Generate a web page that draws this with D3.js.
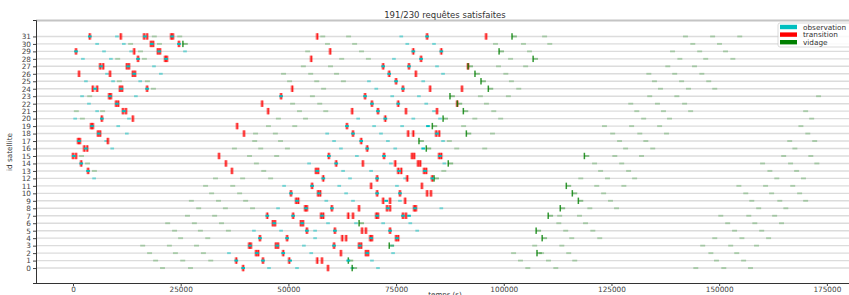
<!DOCTYPE html>
<html>
<head>
<meta charset="utf-8">
<script src="https://cdn.jsdelivr.net/npm/d3@7"></script>
<style>
body { margin: 0; background: #fff; }
svg { display: block; font-family: "DejaVu Sans", sans-serif; }
</style>
</head>
<body>
<div id="canvas"></div>
<script>
// ----------------------------------------------------------
// DATA -----------------------------------------------------
// ----------------------------------------------------------
var title_text = "191/230 requêtes satisfaites";
var series_names = ["observation", "transition", "vidage"];
var x_ticks = [0, 25000, 50000, 75000, 100000, 125000, 150000, 175000];
var y_ticks = d3.range(0, 32);

// transitions (red bars), [satellite, [start times in s]]
var transitions = [
[31, [3900, 11100, 16500, 17200, 22800, 23200, 56700, 82200, 95900]],
[30, [18100, 18600, 24600]],
[29, [700, 14200, 19700, 20200, 59700, 79000, 85500]],
[28, [15100, 21400, 21800, 55300, 80800]],
[27, [6300, 7000, 12500, 13000, 72000, 78000, 91700]],
[26, [1400, 8600, 13900, 14400, 73400, 79600]],
[25, [75000]],
[24, [4600, 5600, 10900, 11400, 17200, 50900, 76600, 82900, 90300]],
[23, [8400, 8800, 48300, 67800]],
[22, [10000, 10500, 43900, 69400, 75500, 89200]],
[21, [11600, 12300, 45300, 64800, 70800, 77300, 84500]],
[20, [6700, 13900, 72500]],
[19, [4200, 4600, 38100, 63600]],
[18, [5800, 6300, 39700, 65000, 77800, 79000, 84300, 85000]],
[17, [1200, 1600, 8100, 66900]],
[16, [2600, 3300, 68300]],
[15, [0, 700, 33900, 59400, 72200, 78700, 79200, 85000, 85500]],
[14, [1900, 35500, 61100, 67300, 74800, 80100, 80600]],
[13, [3500, 36900, 56400, 56900, 75500, 76200, 81500, 82000]],
[12, [58100, 70600, 77600, 83400]],
[11, [55500, 69200, 81000]],
[10, [50600, 56900, 57400, 70600, 75900, 82200, 83100]],
[9, [51800, 52300, 72000, 73600, 77100]],
[8, [53900, 54300, 60100, 66400, 72900, 73600, 79200, 79600]],
[7, [45100, 51100, 57600, 58100, 63900, 65000, 70400, 70800, 76600, 77300]],
[6, [46400, 46900, 52900, 53400]],
[5, [54300, 60800, 67100, 68000, 73600]],
[4, [43400, 49700, 62500, 63400, 69000, 69400, 75000, 75500]],
[3, [40900, 41300, 47100, 47600, 60600, 66400, 66900]],
[2, [42500, 43000, 48800, 62200, 68000, 68500]],
[1, [37900, 44100, 50200, 56700, 57800]],
[0, [39500, 59200]]
];

// scheduled observations (cyan marks)
var observations = [
[31, [3900, 16700, 23000, 82200]],
[30, [18300, 24600]],
[29, [700, 20000, 79000, 85500]],
[28, [15100, 21600, 80800]],
[27, [6500, 12800, 72000, 78000]],
[26, [14200, 73400]],
[25, [75000]],
[24, [5100, 11200, 17200, 76600]],
[23, [8600, 48300, 67800]],
[22, [10200, 69400, 75500]],
[21, [11800, 70800]],
[20, [6700, 72500]],
[19, [4400, 63600, 82400]],
[18, [6000, 65000, 84500]],
[17, [1400, 66900]],
[16, [3000, 68300, 81300]],
[15, [200, 59400, 72200, 85200]],
[14, [1900, 61100]],
[13, [3500, 56700, 75700, 81700]],
[12, [58100, 70600, 83400]],
[11, [55500]],
[10, [50600, 57100, 70600, 75900]],
[9, [52000, 72700]],
[8, [54100, 60100, 73100, 79400]],
[7, [45100, 51100, 57800, 70600, 76600, 78000]],
[6, [46700, 53200]],
[5, [54300, 60800, 73600]],
[4, [43400, 49700, 69200, 75200]],
[3, [41100, 47400, 60600, 66600]],
[2, [42700, 48800, 68300]],
[1, [37900, 44100, 50400, 63900]],
[0, [39500]]
];

// observation windows not used (faint cyan)
var observation_windows = [
[31, [10200, 76200]],
[30, [5600, 11800, 77600, 83800]],
[29, [7200, 13500, 26000]],
[28, [2300, 8800, 74500]],
[27, [18800, 84500]],
[26, [7900, 20400, 85900]],
[25, [3000, 9300, 15600, 68700, 81300]],
[24, [70400]],
[23, [2100, 14600, 74100, 80300]],
[22, [3700, 82000]],
[21, [5600, 83800]],
[20, [500, 13000, 66200, 79000, 85200]],
[19, [10500, 69900, 76400]],
[18, [12500, 59000, 71500]],
[17, [7700, 60600, 73100, 85900]],
[16, [9100, 62200, 74800]],
[15, [65900]],
[14, [54800, 73800, 86200]],
[13, [62700, 69200]],
[12, [4900, 64300, 77100]],
[11, [49000, 61800, 75200]],
[10, [63400]],
[9, [58800, 65000, 75900]],
[8, [47600, 85500]],
[6, [59200, 65700, 72000, 78300]],
[5, [42000, 48300, 56200, 79900]],
[4, [56200]],
[3, [53600, 74100]],
[2, [36200, 55300, 74300]],
[1, [69400]],
[0, [45500, 52000, 64800, 70800]]
];

// downloads done (green bars)
var vidages = [
[31, [101900]], [30, [25500]], [29, [98900]], [28, [106800]],
[27, [91700]], [26, [93300]], [25, [94700]], [24, [96400]],
[23, [87500]], [22, [89200]], [21, [90600]], [20, [85900]],
[19, [83400]], [18, [91300]], [17, [80300]], [16, [82000]],
[15, [118700]], [14, [87100]], [12, [83800]], [11, [114500]],
[10, [115900]], [9, [117300]], [8, [113100]], [7, [110300]],
[6, [66400]], [5, [107500]], [4, [108900]], [3, [73400]],
[2, [107700]], [1, [63900]], [0, [64800]]
];

// station visibility windows (faint green)
var station_windows = [
[31, [18300, 24200, 57400, 63400, 108900, 141600, 147900, 154200]],
[30, [12800, 19500, 58500, 64800, 97500, 104000, 110100, 143300, 149500]],
[29, [15100, 53900, 66400, 105400, 138600, 144900, 150900]],
[28, [9800, 16000, 61800, 68000, 101000, 140300, 146300, 152600]],
[27, [52900, 59200, 98200, 104500, 137500, 143700]],
[26, [48300, 54600, 60600, 99900, 133100, 139100, 145400]],
[25, [10200, 16700, 49700, 56000, 62200, 101200, 134400, 140700, 147000]],
[24, [18100, 57600, 102900, 135800, 142300, 148400]],
[23, [3300, 55000, 94000, 100500, 133300, 139600, 172500]],
[22, [50400, 56700, 95400, 128900, 135100, 141400]],
[21, [200, 6300, 52000, 58100, 97100, 130300, 136500, 142800, 169500]],
[20, [1600, 47100, 53400, 92700, 98700, 131900, 137900, 170900]],
[19, [44800, 50900, 90100, 122800, 129100, 135600, 168400]],
[18, [41800, 46400, 96800, 124700, 131000, 137200, 170000]],
[17, [41600, 47600, 86800, 126300, 132400, 165800, 171600]],
[16, [36900, 43000, 49200, 88500, 95000, 127700, 134000, 167000]],
[15, [1400, 40400, 46700, 125200, 131400, 164400, 170700]],
[14, [2800, 42000, 120500, 126800, 159500, 166000, 172100]],
[13, [4400, 43700, 85500, 121900, 128400, 161200, 167400]],
[12, [32500, 38800, 45300, 117300, 123500, 129800, 162800, 169000]],
[11, [30200, 36500, 121000, 127300, 154000, 160200, 166500]],
[10, [31600, 38100, 122600, 155600, 161600, 168100]],
[9, [26900, 33200, 39500, 124200, 157000, 163500, 169500]],
[8, [28600, 34800, 41100, 119400, 125600, 158600, 164900]],
[7, [26000, 32300, 112400, 117000, 149800, 156300, 162300]],
[6, [21400, 27600, 33900, 112200, 118400, 151400, 157700, 163900]],
[5, [23000, 29000, 35500, 113800, 120100, 153000, 159300]],
[4, [24400, 30700, 115200, 121700, 148400, 154700, 160900]],
[3, [15600, 21800, 28100, 106600, 112900, 145600, 152100, 158100]],
[2, [17200, 23200, 29700, 101700, 108200, 114500, 147500, 153500]],
[1, [18600, 24900, 31400, 103300, 109800, 115900, 148800, 155100]],
[0, [20200, 26700, 105000, 111500, 144000, 150500, 156700]]
];

var data_set =
{
container_width: 849,
container_height: 295,
color_obs: "#00bfbf",
color_trans: "#ff0000",
color_vid: "#008000",
color_row: "#dcdcdc",
color_text: "#333"
};

// flatten [sat, [t...]] into {sat, t}
function flat(list) {
var out = [];
list.forEach(function (r) {
r[1].forEach(function (t) { out.push({ sat: r[0], t: t }); });
});
return out;
}

// ----------------------------------------------------------
// STRUCTURE ------------------------------------------------
// ----------------------------------------------------------
var container = d3.select("#canvas").append("svg")
.attr("width", data_set.container_width)
.attr("height", data_set.container_height);

var x = d3.scaleLinear().domain([-8590, 181300]).range([36, 854]);
var y = d3.scaleLinear().domain([-2, 33.2]).range([283, 20]);
var row_h = y(0) - y(1);

var layout_group = container.append("g").attr("class", "layout_group");
var gfx_group = container.append("g").attr("class", "gfx_group");
var text_group = container.append("g").attr("class", "text_group");

// row lines
layout_group.selectAll(".row_line")
.data(y_ticks)
.enter()
.append("line")
.attr("x1", 36)
.attr("x2", 849)
.attr("y1", (d) => y(d))
.attr("y2", (d) => y(d))
.style("stroke", data_set.color_row)
.style("stroke-width", 1.4);

// top frame line
layout_group.append("line")
.attr("x1", 36).attr("x2", 849)
.attr("y1", 20.5).attr("y2", 20.5)
.style("stroke", "#c4c4c4")
.style("stroke-width", 2);

// ----------------------------------------------------------
// GFX ------------------------------------------------------
// ----------------------------------------------------------
var w_win = 1150;   // faint window width in s
var w_obs = 850;

// station windows
gfx_group.selectAll(".gwin")
.data(flat(station_windows))
.enter()
.append("rect")
.attr("x", (d) => x(d.t))
.attr("y", (d) => y(d.sat) - 1)
.attr("width", x(w_win) - x(0))
.attr("height", 2)
.style("fill", data_set.color_vid)
.style("opacity", 0.26);

// observation windows
gfx_group.selectAll(".owin")
.data(flat(observation_windows))
.enter()
.append("rect")
.attr("x", (d) => x(d.t) - (x(w_obs) - x(0)) / 2)
.attr("y", (d) => y(d.sat) - 1)
.attr("width", x(w_obs) - x(0))
.attr("height", 2)
.style("fill", data_set.color_obs)
.style("opacity", 0.5);

// transitions
var trans = gfx_group.selectAll(".trans")
.data(flat(transitions))
.enter()
.append("g");

trans.append("rect")
.attr("x", (d) => x(d.t) - 1.8)
.attr("y", (d) => y(d.sat) - row_h * 0.43)
.attr("width", 3.6)
.attr("height", row_h * 0.86)
.style("fill", data_set.color_trans)
.style("opacity", 0.35);

trans.append("rect")
.attr("x", (d) => x(d.t) - 0.7)
.attr("y", (d) => y(d.sat) - row_h * 0.43)
.attr("width", 1.4)
.attr("height", row_h * 0.86)
.style("fill", data_set.color_trans)
.style("opacity", 0.85);

// vidages
var vid = gfx_group.selectAll(".vid")
.data(flat(vidages))
.enter()
.append("g");

vid.append("rect")
.attr("x", (d) => x(d.t))
.attr("y", (d) => y(d.sat) - 1)
.attr("width", x(w_win) - x(0))
.attr("height", 2)
.style("fill", data_set.color_vid)
.style("opacity", 0.4);

vid.append("rect")
.attr("x", (d) => x(d.t) - 0.7)
.attr("y", (d) => y(d.sat) - row_h * 0.43)
.attr("width", 1.5)
.attr("height", row_h * 0.86)
.style("fill", data_set.color_vid)
.style("opacity", 0.8);

// observations done
gfx_group.selectAll(".obs")
.data(flat(observations))
.enter()
.append("rect")
.attr("x", (d) => x(d.t) - (x(w_obs) - x(0)) / 2)
.attr("y", (d) => y(d.sat) - 1)
.attr("width", x(w_obs) - x(0))
.attr("height", 2)
.style("fill", data_set.color_obs);

// ----------------------------------------------------------
// AXES -----------------------------------------------------
// ----------------------------------------------------------
var x_axis = layout_group.append("g")
.attr("transform", "translate(0,283)")
.call(d3.axisBottom(x).tickValues(x_ticks).tickSize(3).tickPadding(1).tickFormat(d3.format("d")));

var y_axis = layout_group.append("g")
.attr("transform", "translate(36,0)")
.call(d3.axisLeft(y).tickValues(y_ticks).tickSize(3).tickPadding(2));

[x_axis, y_axis].forEach(function (a) {
a.select(".domain").style("stroke", "#333").style("stroke-width", 1);
a.selectAll(".tick line").style("stroke", "#444");
a.selectAll(".tick text")
.style("font-size", "7.3px")
.style("font-family", "DejaVu Sans")
.style("fill", "#444");
});
x_axis.select(".domain").attr("d", "M36,0.5H849");

// ----------------------------------------------------------
// TEXT -----------------------------------------------------
// ----------------------------------------------------------
text_group.append("text")
.attr("x", 445)
.attr("y", 18)
.attr("text-anchor", "middle")
.style("font-size", "8.5px")
.style("fill", data_set.color_text)
.text(title_text);

text_group.append("text")
.attr("transform", "translate(12,152) rotate(-90)")
.attr("text-anchor", "middle")
.style("font-size", "7.3px")
.style("fill", data_set.color_text)
.text("id satellite");

// x label sits at the bottom edge, as in the source figure
text_group.append("text")
.attr("x", 445)
.attr("y", 297)
.attr("text-anchor", "middle")
.style("font-size", "7px")
.style("fill", data_set.color_text)
.text("temps (s)");

// legend
var legend = text_group.append("g").attr("transform", "translate(778,23)");
legend.append("rect")
.attr("x", 0).attr("y", 0)
.attr("width", 80).attr("height", 24)
.attr("rx", 2)
.style("fill", "#fff")
.style("opacity", 0.85)
.style("stroke", "#ccc")
.style("stroke-width", 0.8);

var legend_colors = [data_set.color_obs, data_set.color_trans, data_set.color_vid];
var leg_item = legend.selectAll(".leg")
.data(series_names)
.enter()
.append("g")
.attr("transform", (d, i) => `translate(0, ${4 + i * 7.6})`);

leg_item.append("rect")
.attr("x", 2).attr("y", -2.2)
.attr("width", 17).attr("height", 4.4)
.style("fill", (d, i) => legend_colors[i]);

leg_item.append("text")
.attr("x", 25)
.attr("y", 2.6)
.style("font-size", "7.3px")
.style("fill", data_set.color_text)
.text((d) => d);
</script>
</body>
</html>
